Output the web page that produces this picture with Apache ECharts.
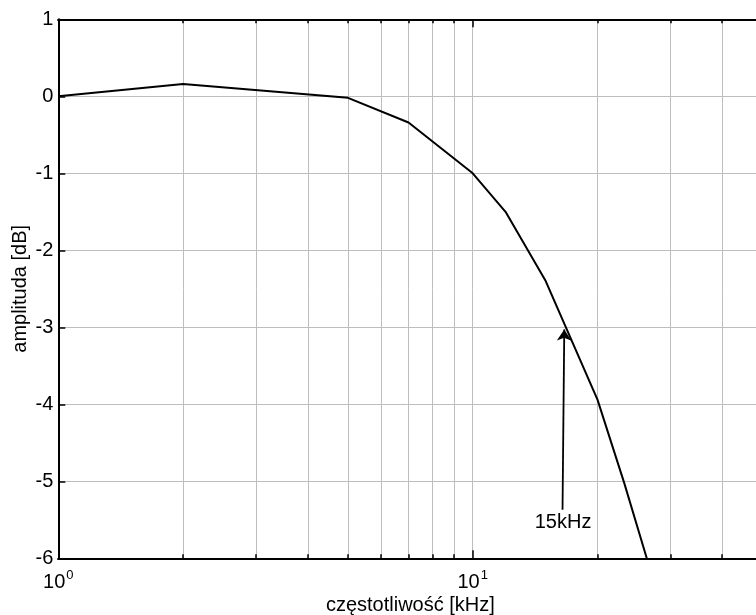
<!DOCTYPE html>
<html>
<head>
<meta charset="utf-8">
<script src="https://cdn.jsdelivr.net/npm/echarts@6/dist/echarts.min.js"></script>
<style>html,body{margin:0;padding:0;background:#fff}#c{width:756px;height:615px}</style>
</head>
<body>
<div id="c"></div>
<script>
// data
var freqKHz = [1, 2, 5, 7, 10, 12, 15, 20, 23.2, 26.3];
var amplitudeDb = [0, 0.16, -0.02, -0.34, -1.0, -1.5, -2.4, -3.94, -5.02, -6.0];
var xMinorTicks = [1, 2, 3, 4, 5, 6, 7, 8, 9, 10, 20, 30, 40, 50];
var xMajorTicks = [1, 10];
var xTickLabels = ['0', '1'];   // exponents of 10
var yTicks = [-6, -5, -4, -3, -2, -1, 0, 1];
var arrowFrom = [16.47, -5.37];
var arrowTo = [16.63, -3.03];
var annotationPos = [16.52, -5.54];
var annotationText = '15kHz';

var FONT = '"Liberation Sans", Arial, sans-serif';
var seriesData = freqKHz.map(function (f, i) { return [f, amplitudeDb[i]]; });

function xAxisDef(pos, ticks, len, showLabel, showSplit) {
  return {
    type: 'log', logBase: 10, min: 1, max: 50, position: pos,
    axisLine: { show: true, onZero: false, lineStyle: { color: '#000', width: 2 } },
    axisTick: { show: true, inside: true, length: len, customValues: ticks, lineStyle: { color: '#000', width: 1.5 } },
    axisLabel: {
      show: showLabel, customValues: xMajorTicks, margin: 11, fontFamily: FONT,
      formatter: function (v) {
        var idx = xMajorTicks.indexOf(Math.round(v));
        return '{b|10}{s|' + (idx >= 0 ? xTickLabels[idx] : '') + '}';
      },
      rich: {
        b: { fontSize: 20, color: '#000', fontFamily: FONT },
        s: { fontSize: 13, color: '#000', fontFamily: FONT, padding: [0, 0, 13, 1] }
      }
    },
    splitLine: { show: showSplit, lineStyle: { color: '#bdbdbd', width: 1 } },
    minorTick: { show: false }
  };
}

var xAxes = [
  xAxisDef('bottom', xMinorTicks, 4, true, true),
  xAxisDef('bottom', xMajorTicks, 8, false, false),
  xAxisDef('top', xMinorTicks, 4, false, false),
  xAxisDef('top', xMajorTicks, 8, false, false)
];
xAxes[0].name = 'częstotliwość [kHz]';
xAxes[0].nameLocation = 'middle';
xAxes[0].nameGap = 37;
xAxes[0].nameMoveOverlap = false;
xAxes[0].nameTextStyle = { fontSize: 20, color: '#000', fontFamily: FONT };

var chart = echarts.init(document.getElementById('c'), null, { renderer: 'canvas' });
chart.setOption({
  backgroundColor: '#fff',
  animation: false,
  grid: { left: 58.3, right: -6.4, top: 19.3, bottom: 56.7, containLabel: false, outerBoundsMode: 'none' },
  xAxis: xAxes,
  yAxis: {
    type: 'value', min: yTicks[0], max: yTicks[yTicks.length - 1], interval: 1,
    name: 'amplituda [dB]', nameLocation: 'middle', nameGap: 28, nameMoveOverlap: false,
    nameTextStyle: { fontSize: 20, color: '#000', fontFamily: FONT },
    axisLine: { show: true, onZero: false, lineStyle: { color: '#000', width: 2 } },
    axisTick: { show: true, inside: true, length: 7, lineStyle: { color: '#000', width: 1.5 } },
    axisLabel: { color: '#000', fontSize: 20, fontFamily: FONT, margin: 5 },
    splitLine: { show: true, lineStyle: { color: '#bdbdbd', width: 1 } }
  },
  series: [{
    type: 'line', xAxisIndex: 0, data: seriesData, symbol: 'none',
    lineStyle: { color: '#000', width: 2 }, clip: true,
    markLine: {
      silent: true, symbol: ['none', 'arrow'], symbolSize: 11,
      label: { show: false },
      lineStyle: { color: '#000', width: 1.8, type: 'solid' },
      data: [[{ coord: arrowFrom }, { coord: arrowTo }]]
    },
    markPoint: {
      silent: true, symbol: 'circle', symbolSize: 0,
      label: { show: true, position: 'inside', formatter: annotationText, color: '#000', fontSize: 20, fontFamily: FONT },
      data: [{ coord: annotationPos }]
    }
  }]
});
</script>
</body>
</html>
